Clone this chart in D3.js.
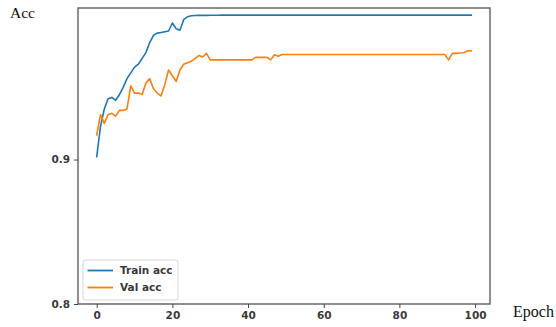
<!DOCTYPE html>
<html>
<head>
<meta charset="utf-8">
<script src="https://cdn.jsdelivr.net/npm/d3@7"></script>
<style>
  html, body { margin: 0; padding: 0; background: #fff; }
  svg { display: block; }
</style>
</head>
<body>
<div id="chart"></div>
<script>
// Training history: accuracy per epoch
const epochs = d3.range(100);

const trainAcc = [
  0.902, 0.923, 0.935, 0.942, 0.943, 0.941, 0.945, 0.950, 0.956, 0.960,
  0.964, 0.966, 0.970, 0.974, 0.981, 0.986, 0.9875, 0.988, 0.9885, 0.989,
  0.9945, 0.9905, 0.9895, 0.997, 0.9988, 0.9995, 0.9997, 0.9998, 0.9998, 0.9998,
  0.9999, 0.9999, 0.9999, 1.0, 1.0, 1.0, 1.0, 1.0, 1.0, 1.0,
  1.0, 1.0, 1.0, 1.0, 1.0, 1.0, 1.0, 1.0, 1.0, 1.0,
  1.0, 1.0, 1.0, 1.0, 1.0, 1.0, 1.0, 1.0, 1.0, 1.0,
  1.0, 1.0, 1.0, 1.0, 1.0, 1.0, 1.0, 1.0, 1.0, 1.0,
  1.0, 1.0, 1.0, 1.0, 1.0, 1.0, 1.0, 1.0, 1.0, 1.0,
  1.0, 1.0, 1.0, 1.0, 1.0, 1.0, 1.0, 1.0, 1.0, 1.0,
  1.0, 1.0, 1.0, 1.0, 1.0, 1.0, 1.0, 1.0, 1.0, 1.0
];

const valAcc = [
  0.917, 0.931, 0.925, 0.931, 0.932, 0.930, 0.934, 0.934, 0.935, 0.951,
  0.946, 0.946, 0.945, 0.953, 0.956, 0.949, 0.946, 0.944, 0.952, 0.962,
  0.958, 0.954, 0.962, 0.966, 0.967, 0.968, 0.970, 0.972, 0.971, 0.9735,
  0.969, 0.969, 0.969, 0.969, 0.969, 0.969, 0.969, 0.969, 0.969, 0.969,
  0.969, 0.969, 0.9707, 0.9707, 0.9707, 0.9707, 0.969, 0.9725, 0.9715, 0.9727,
  0.9727, 0.9727, 0.9727, 0.9727, 0.9727, 0.9727, 0.9727, 0.9727, 0.9727, 0.9727,
  0.9727, 0.9727, 0.9727, 0.9727, 0.9727, 0.9727, 0.9727, 0.9727, 0.9727, 0.9727,
  0.9727, 0.9727, 0.9727, 0.9727, 0.9727, 0.9727, 0.9727, 0.9727, 0.9727, 0.9727,
  0.9727, 0.9727, 0.9727, 0.9727, 0.9727, 0.9727, 0.9727, 0.9727, 0.9727, 0.9727,
  0.9727, 0.9727, 0.9727, 0.969, 0.9735, 0.9735, 0.9737, 0.9739, 0.9752, 0.9753
];

const seriesNames = ["Train acc", "Val acc"];
const seriesColors = ["#1f77b4", "#ff7f0e"];
const xTicks = [0, 20, 40, 60, 80, 100];
const yTicks = [0.8, 0.9];

const W = 556, H = 327;
const plot = { left: 78, right: 490, top: 8, bottom: 304 };

const svg = d3.select("#chart").append("svg")
  .attr("width", W).attr("height", H);

const x = d3.scaleLinear().domain([-4.95, 103.95]).range([plot.left, plot.right]);
const y = d3.scaleLinear().domain([0.8, 1.0049]).range([plot.bottom, plot.top]);

const tickFont = "DejaVu Sans, sans-serif";

// x axis
const gx = svg.append("g")
  .attr("transform", `translate(0,${plot.bottom})`)
  .call(d3.axisBottom(x).tickValues(xTicks).tickFormat(d3.format("d"))
    .tickSize(4).tickPadding(4).tickSizeOuter(0));
gx.select(".domain").remove();
gx.selectAll("line").attr("stroke", "#444").attr("stroke-width", 1);
gx.selectAll("text").attr("font-family", tickFont).attr("font-size", 10.5)
  .attr("font-weight", "bold").attr("fill", "#3a3a3a");

// y axis
const gy = svg.append("g")
  .attr("transform", `translate(${plot.left},0)`)
  .call(d3.axisLeft(y).tickValues(yTicks).tickFormat(d3.format(".1f"))
    .tickSize(4).tickPadding(4).tickSizeOuter(0));
gy.select(".domain").remove();
gy.selectAll("line").attr("stroke", "#444").attr("stroke-width", 1);
gy.selectAll("text").attr("font-family", tickFont).attr("font-size", 10.5)
  .attr("font-weight", "bold").attr("fill", "#3a3a3a");

// lines
const series = [trainAcc, valAcc];
const line = d3.line().x((d, i) => x(epochs[i])).y(d => y(d));
svg.append("g").selectAll("path").data(series).join("path")
  .attr("d", line)
  .attr("fill", "none")
  .attr("stroke", (d, i) => seriesColors[i])
  .attr("stroke-width", 1.6)
  .attr("stroke-linejoin", "round")
  .attr("stroke-linecap", "square");

// frame
svg.append("rect")
  .attr("x", plot.left).attr("y", plot.top)
  .attr("width", plot.right - plot.left).attr("height", plot.bottom - plot.top)
  .attr("fill", "none").attr("stroke", "#444").attr("stroke-width", 1.2);

// legend
const lg = svg.append("g").attr("transform", "translate(83,260)");
lg.append("rect")
  .attr("width", 95).attr("height", 40).attr("rx", 2.5)
  .attr("fill", "#fff").attr("fill-opacity", 0.8)
  .attr("stroke", "#d6d6d6").attr("stroke-width", 1);
const items = lg.selectAll("g.item").data(seriesNames).join("g")
  .attr("class", "item")
  .attr("transform", (d, i) => `translate(0,${10.5 + i * 17})`);
items.append("line")
  .attr("x1", 4.5).attr("x2", 30)
  .attr("stroke", (d, i) => seriesColors[i]).attr("stroke-width", 1.8);
items.append("text")
  .attr("x", 37).attr("dy", "0.35em")
  .attr("font-family", tickFont).attr("font-size", 10.5)
  .attr("font-weight", "bold").attr("fill", "#3a3a3a")
  .text(d => d);

// axis titles
svg.append("text").attr("x", 10).attr("y", 17.5)
  .attr("font-family", "Liberation Serif, Times New Roman, serif")
  .attr("font-size", 15.5).attr("fill", "#111").text("Acc");
svg.append("text").attr("x", 513).attr("y", 317)
  .attr("font-family", "Liberation Serif, Times New Roman, serif")
  .attr("font-size", 16).attr("fill", "#111").text("Epoch");
</script>
</body>
</html>
